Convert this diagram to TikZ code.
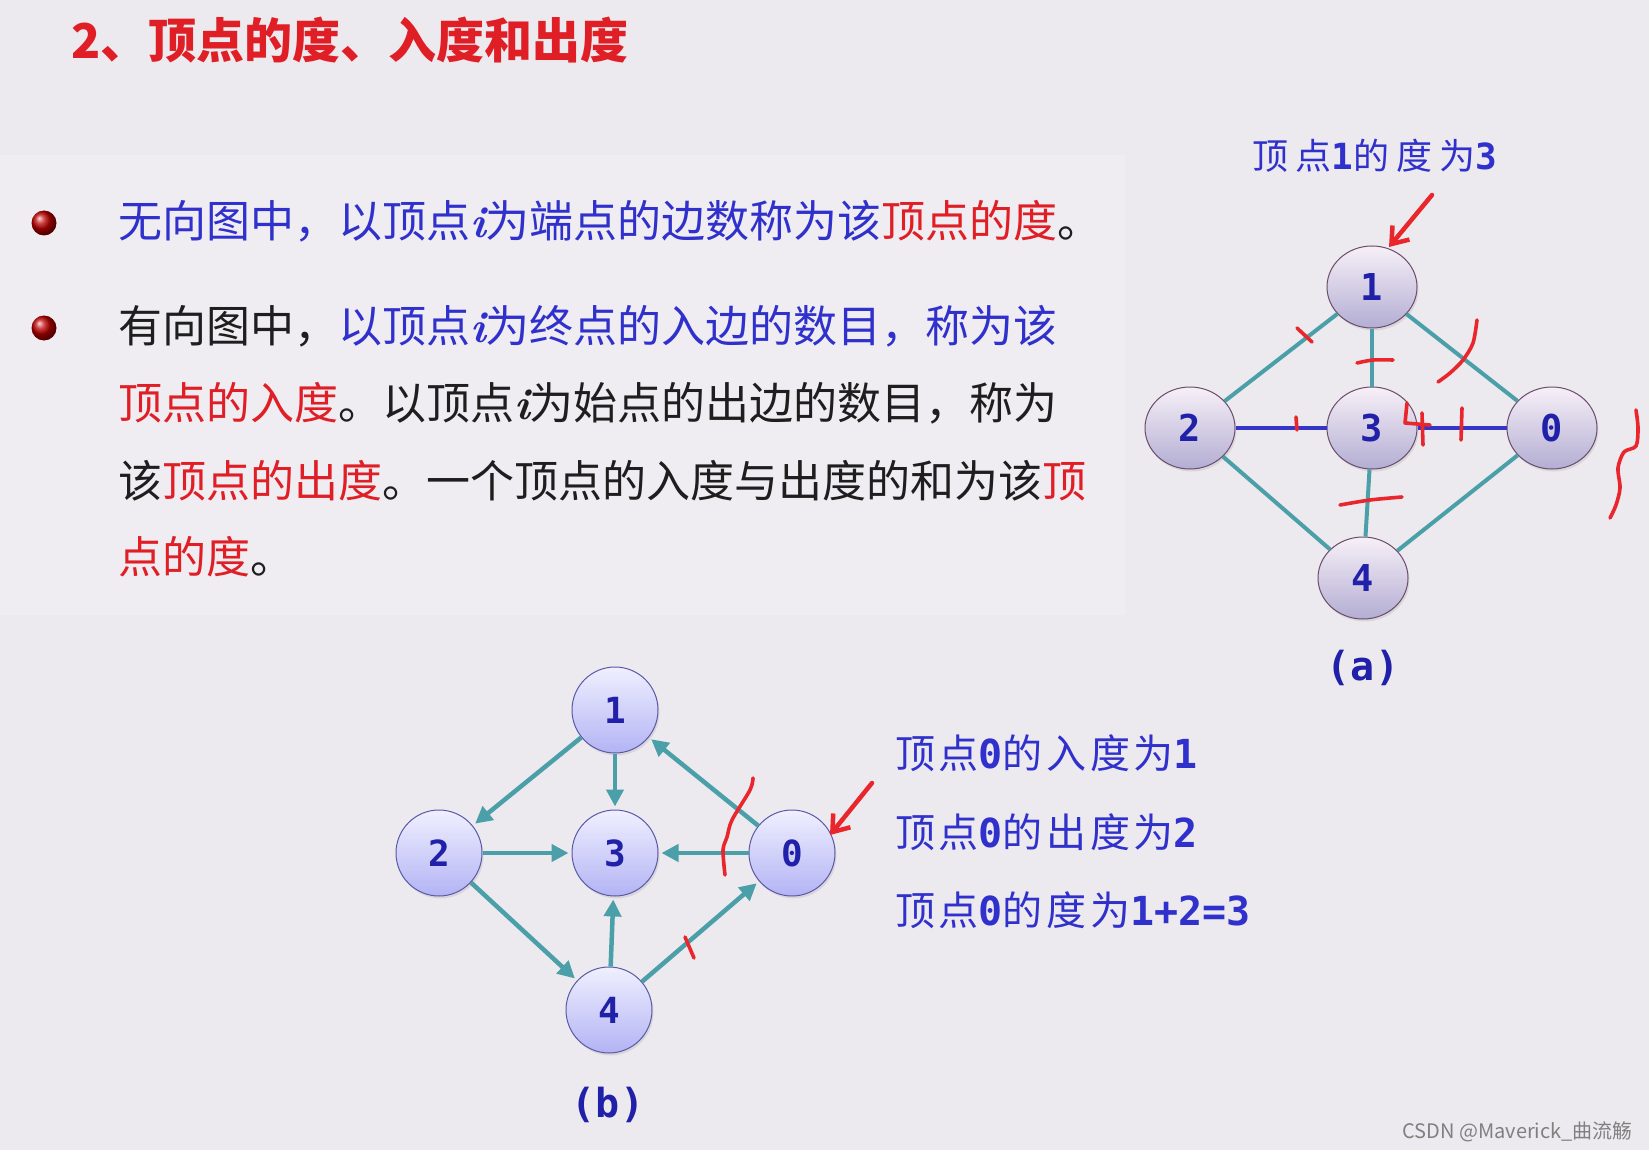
\documentclass[tikz,border=0pt]{standalone}
\usepackage{fontspec}
\usetikzlibrary{arrows.meta,shapes.geometric,shadows}
\newfontfamily\cjk{Noto Sans CJK SC}
\newfontfamily\cjkside[LetterSpace=9]{Noto Sans CJK SC}
\newfontfamily\cjktop[LetterSpace=20]{Noto Sans CJK SC}
\newfontfamily\monob{DejaVu Sans Mono}
\newcommand{\ivar}{{\rmfamily\bfseries\itshape i}}
\newcommand{\dg}[1]{{\monob\bfseries #1}}
\definecolor{bg}{HTML}{ECEAEE}
\definecolor{panel}{HTML}{EFEDF1}
\definecolor{tblue}{HTML}{3030CC}
\definecolor{tred}{HTML}{E01E26}
\definecolor{tblack}{HTML}{1E1E1E}
\definecolor{edgeteal}{HTML}{4B9FA9}
\definecolor{edgeblue}{HTML}{3535C8}
\definecolor{ndblue}{HTML}{2020A8}
\definecolor{inkred}{HTML}{E8262B}
\tikzset{
  txt/.style={anchor=west, inner sep=0pt, font=\cjk\fontsize{44}{50}\selectfont},
  anode/.style={ellipse, draw=black!40!violet!40!gray, line width=1pt, minimum width=90pt, minimum height=82pt, inner sep=0pt,
    top color=white!60!violet!15, bottom color=violet!25!blue!20!white!85!black, text=ndblue,
    font=\monob\bfseries\fontsize{37}{37}\selectfont, drop shadow={opacity=0.18, shadow xshift=1.5pt, shadow yshift=-2.5pt}},
  bnode/.style={circle, draw=blue!30!gray, line width=1pt, minimum size=86pt, inner sep=0pt,
    top color=blue!6!white, bottom color=blue!28!white!92!gray, text=ndblue,
    font=\monob\bfseries\fontsize{36}{36}\selectfont, drop shadow={opacity=0.18, shadow xshift=1.5pt, shadow yshift=-2.5pt}},
  aedge/.style={draw=edgeteal, line width=4pt},
  aedgeb/.style={draw=edgeblue, line width=4pt},
  bedge/.style={draw=edgeteal, line width=4.5pt, -{Triangle[length=17pt,width=17pt]}, shorten >=3pt},
  ink/.style={draw=inkred, line width=3.6pt, line cap=round, line join=round},
  inkarrow/.style={ink, line width=4.5pt, -{Straight Barb[length=15pt,width=22pt]}},
  lab/.style={text=ndblue, font=\monob\bfseries\fontsize{40}{40}\selectfont, inner sep=0pt},
  side/.style={anchor=west, inner sep=0pt, text=tblue, font=\cjkside\fontsize{40}{44}\selectfont},
  bulletdot/.style={circle, minimum size=25pt, inner sep=0pt, ball color=red!75!black}
}
\begin{document}
\begin{tikzpicture}[x=1pt,y=-1pt]
\fill[bg] (0,0) rectangle (1649,1150);
\useasboundingbox (0,0) rectangle (1649,1150);
\fill[panel] (0,155) rectangle (1125,615);

% title
\node[anchor=west, inner sep=0pt, text=tred, font=\cjk\bfseries\fontsize{48}{52}\selectfont] (title) at (71,40) {2、顶点的度、入度和出度};

% bullets
\node[bulletdot] (bu1) at (44,223) {};
\node[bulletdot] (bu2) at (44,328) {};

% paragraph
\node[txt] (l1) at (118,221) {\color{tblue}无向图中，以顶点\ivar 为端点的边数称为该\color{tred}顶点的度\color{tblack}。};
\node[txt] (l2) at (118,326) {\color{tblack}有向图中，\color{tblue}以顶点\ivar 为终点的入边的数目，称为该};
\node[txt] (l3) at (118,403) {\color{tred}顶点的入度\color{tblack}。以顶点\ivar 为始点的出边的数目，称为};
\node[txt] (l4) at (118,481) {\color{tblack}该\color{tred}顶点的出度\color{tblack}。一个顶点的入度与出度的和为该\color{tred}顶};
\node[txt] (l5) at (118,557) {\color{tred}点的度\color{tblack}。};

% graph (a)
\node[anode] (a1) at (1372,287) {1};
\node[anode] (a2) at (1190,428) {2};
\node[anode] (a3) at (1372,428) {3};
\node[anode] (a0) at (1552,428) {0};
\node[anode] (a4) at (1363,578) {4};
\draw[aedge] (a1) -- (a2);
\draw[aedge] (a1) -- (a0);
\draw[aedge] (a2) -- (a4);
\draw[aedge] (a0) -- (a4);
\draw[aedge] (a1) -- (a3);
\draw[aedge] (a3) -- (a4);
\draw[aedgeb] (a2) -- (a3);
\draw[aedgeb] (a3) -- (a0);
\node[lab] (la) at (1363,668) {(a)};
\node[anchor=center, inner sep=0pt, text=tblue, font=\cjktop\fontsize{36}{40}\selectfont] (deg1) at (1375,156) {顶点\dg{1}的度为\dg{3}};

% red ink on (a)
\coordinate (raS) at (1432,195);
\coordinate (raE) at (1389,247);
\draw[inkarrow] (raS) -- (raE);
\draw[ink] (1297,328) -- (1312,342);
\draw[ink] plot[smooth] coordinates {(1357,363) (1373,360) (1393,360)};
\draw[ink] plot[smooth] coordinates {(1477,320) (1473,343) (1463,360) (1450,373) (1438,382)};
\draw[ink] (1296,417) -- (1297,430);
\draw[ink] plot coordinates {(1407,403) (1405,423) (1430,425)};
\draw[ink] (1422,413) -- (1423,445);
\draw[ink] (1462,408) -- (1461,440);
\draw[ink] plot[smooth] coordinates {(1340,505) (1370,500) (1402,497)};
\draw[ink] plot[smooth] coordinates {(1636,410) (1638,428) (1636,446) (1624,452) (1618,468) (1620,488) (1616,505) (1610,518)};

% graph (b)
\node[bnode] (b1) at (615,710) {1};
\node[bnode] (b2) at (439,853) {2};
\node[bnode] (b3) at (615,853) {3};
\node[bnode] (b0) at (792,853) {0};
\node[bnode] (b4) at (609,1010) {4};
\draw[bedge] (b1) -- (b2);
\draw[bedge] (b1) -- (b3);
\draw[bedge] (b2) -- (b3);
\draw[bedge] (b0) -- (b3);
\draw[bedge] (b0) -- (b1);
\draw[bedge] (b2) -- (b4);
\draw[bedge] (b4) -- (b3);
\draw[bedge] (b4) -- (b0);
\node[lab] (lb) at (608,1105) {(b)};

% red ink on (b)
\draw[ink] plot[smooth] coordinates {(753,778) (750,790) (732,820) (727,837) (723,850) (725,875)};
\draw[ink] (685,937) -- (694,958);
\coordinate (rbS) at (872,783);
\coordinate (rbE) at (830,835);
\draw[inkarrow] (rbS) -- (rbE);

% side text
\node[side] (s1) at (895,753) {顶点\dg{0}的入度为\dg{1}};
\node[side] (s2) at (895,832) {顶点\dg{0}的出度为\dg{2}};
\node[side] (s3) at (895,910) {顶点\dg{0}的度为\dg{1+2=3}};

% watermark
\node[anchor=east, inner sep=0pt, text=black!50, font=\cjk\fontsize{20}{22}\selectfont] (wm) at (1633,1132) {CSDN @Maverick\_曲流觞};
\end{tikzpicture}
\end{document}
